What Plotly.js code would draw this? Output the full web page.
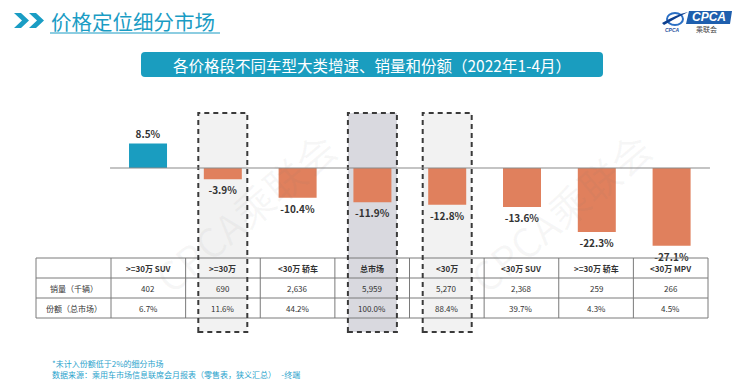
<!DOCTYPE html>
<html>
<head>
<meta charset="utf-8">
<script src="https://cdn.plot.ly/plotly-3.0.1.min.js"></script>
<style>html,body{margin:0;padding:0;background:#fff;}#chart{width:744px;height:392px;}</style>
</head>
<body>
<div id="chart"></div>
<script>
const categories = [">=30万 SUV", ">=30万", "<30万 轿车", "总市场", "<30万", "<30万 SUV", ">=30万 轿车", "<30万 MPV"];
const growth = [8.5, -3.9, -10.4, -11.9, -12.8, -13.6, -22.3, -27.1];
const sales = ["402", "690", "2,636", "5,959", "5,270", "2,368", "259", "266"];
const share = ["6.7%", "11.6%", "44.2%", "100.0%", "88.4%", "39.7%", "4.3%", "4.5%"];
const rowLabels = ["销量（千辆）", "份额（总市场）"];
const highlight = [1, 3, 4];

const W = 744, H = 392;
const px = x => x / W;
const py = y => 1 - y / H;
const FONT = '"Noto Sans CJK SC", "Noto Sans", sans-serif';
const TEAL = '#1a9dbf';
const idx = categories.map((c, i) => i);

const shapes = [];
const annotations = [];
function ann(o) {
  annotations.push(Object.assign({xref: 'paper', yref: 'paper', showarrow: false, xanchor: 'center', yanchor: 'middle'}, o));
}

// dashed highlight boxes (behind)
highlight.forEach(i => {
  const cx = 148 + 74.8 * i;
  shapes.push({type: 'rect', xref: 'paper', yref: 'paper', layer: 'below',
    x0: px(cx - 24.5), x1: px(cx + 24.5), y0: py(332), y1: py(113),
    fillcolor: i === 3 ? '#d9d9df' : '#f2f2f2', line: {width: 0}});
});

// banner
const bx0 = 141, bx1 = 603, by0 = 52, by1 = 77, r = 4;
shapes.push({type: 'path', xref: 'paper', yref: 'paper', layer: 'below',
  path: `M ${px(bx0 + r)} ${py(by0)} L ${px(bx1 - r)} ${py(by0)} Q ${px(bx1)} ${py(by0)} ${px(bx1)} ${py(by0 + r)} L ${px(bx1)} ${py(by1 - r)} Q ${px(bx1)} ${py(by1)} ${px(bx1 - r)} ${py(by1)} L ${px(bx0 + r)} ${py(by1)} Q ${px(bx0)} ${py(by1)} ${px(bx0)} ${py(by1 - r)} L ${px(bx0)} ${py(by0 + r)} Q ${px(bx0)} ${py(by0)} ${px(bx0 + r)} ${py(by0)} Z`,
  fillcolor: TEAL, line: {width: 0}});
ann({x: px(372), y: py(64.5), text: '各价格段不同车型大类增速、销量和份额（2022年1-4月）',
  font: {family: FONT, size: 15.5, color: '#ffffff'}});

// header chevrons
[14, 29].forEach(x => {
  shapes.push({type: 'path', xref: 'paper', yref: 'paper',
    path: `M ${px(x)} ${py(13)} L ${px(x + 7)} ${py(13)} L ${px(x + 15)} ${py(20.5)} L ${px(x + 7)} ${py(28)} L ${px(x)} ${py(28)} L ${px(x + 8)} ${py(20.5)} Z`,
    fillcolor: '#1a9dc4', line: {width: 0}});
});
ann({x: px(49), y: py(21), xanchor: 'left', text: '价格定位细分市场', font: {family: FONT, size: 20.5, color: '#1a9cc4'}});
shapes.push({type: 'line', xref: 'paper', yref: 'paper', x0: px(50), x1: px(220), y0: py(33), y1: py(33),
  line: {color: '#1a9cc4', width: 1.2}});

// logo
shapes.push({type: 'path', xref: 'paper', yref: 'paper',
  path: `M ${px(689)} ${py(11)} L ${px(732)} ${py(11)} L ${px(730)} ${py(24)} L ${px(686)} ${py(24)} Z`,
  fillcolor: '#1f5fae', line: {width: 0}});
ann({x: px(709), y: py(17.5), text: '<i><b>CPCA</b></i>', font: {family: 'Liberation Sans, Arial', size: 12, color: '#ffffff'}});
ann({x: px(706), y: py(29), text: '乘联会', font: {family: FONT, size: 7, color: '#444'}});
shapes.push({type: 'circle', xref: 'paper', yref: 'paper',
  x0: px(667), x1: px(683), y0: py(25), y1: py(13), fillcolor: 'rgba(0,0,0,0)', line: {color: '#2b6fc4', width: 2}});
shapes.push({type: 'path', xref: 'paper', yref: 'paper',
  path: `M ${px(662)} ${py(23)} Q ${px(675)} ${py(15)} ${px(688)} ${py(12)} Q ${px(676)} ${py(18)} ${px(664)} ${py(25)} Z`,
  fillcolor: '#0d3f8f', line: {width: 0}});
ann({x: px(672), y: py(30), text: '<i><b>CPCA</b></i>', font: {family: 'Liberation Sans, Arial', size: 5, color: '#1f4f9e'}});

// watermarks
[[245, 212], [560, 212]].forEach(([x, y]) => {
  ann({x: px(x), y: py(y), textangle: -40, text: 'CPCA乘联会', font: {family: FONT, size: 40, color: 'rgba(120,120,120,0.06)'}});
});

// table
const tL = 36, tR = 708, c0 = 111, cw = (tR - c0) / 8;
const rows = [258, 278, 298, 318];
rows.forEach(y => shapes.push({type: 'line', xref: 'paper', yref: 'paper', x0: px(tL), x1: px(tR), y0: py(y), y1: py(y),
  line: {color: '#7a7a7a', width: 1}}));
[tL, ...Array.from({length: 9}, (_, k) => c0 + cw * k)].forEach(x => shapes.push({type: 'line', xref: 'paper', yref: 'paper',
  x0: px(x), x1: px(x), y0: py(258), y1: py(318), line: {color: '#7a7a7a', width: 1}}));
const tf = {family: FONT, size: 8, color: '#333'};
categories.forEach((c, i) => {
  const cx = c0 + cw * (i + 0.5);
  ann({x: px(cx), y: py(268), text: '<b>' + c.replace(/</g, '&lt;') + '</b>', font: tf});
  ann({x: px(cx), y: py(288), text: sales[i], font: tf});
  ann({x: px(cx), y: py(308), text: share[i], font: tf});
});
rowLabels.forEach((t, k) => ann({x: px((tL + c0) / 2), y: py(288 + 20 * k), text: t, font: tf}));

// dashed borders of highlight boxes (on top)
highlight.forEach(i => {
  const cx = 148 + 74.8 * i;
  shapes.push({type: 'rect', xref: 'paper', yref: 'paper', layer: 'above',
    x0: px(cx - 24.5), x1: px(cx + 24.5), y0: py(332), y1: py(113),
    fillcolor: 'rgba(0,0,0,0)', line: {color: '#3a3a3a', width: 2, dash: '5px,4px'}});
});

// zero line
shapes.push({type: 'line', xref: 'x', yref: 'y', x0: -0.508, x1: 7.513, y0: 0, y1: 0, layer: 'above',
  line: {color: '#8a8a8a', width: 1.2}});

// footnotes
ann({x: px(50), y: py(363), xanchor: 'left', text: '*未计入份额低于2%的细分市场', font: {family: FONT, size: 8, color: '#2aa3cc'}});
ann({x: px(50), y: py(374), xanchor: 'left', text: '数据来源：乘用车市场信息联席会月报表（零售表，狭义汇总）   -终端', font: {family: FONT, size: 8, color: '#2aa3cc'}});

const trace = {
  type: 'bar', x: idx, y: growth, width: 0.508,
  marker: {color: growth.map(v => v >= 0 ? '#1a9dc0' : '#e0805d'), line: {width: 0}},
  texttemplate: '%{y:.1f}%', textposition: 'outside', cliponaxis: false,
  textfont: {family: FONT, size: 10, color: '#333', weight: 'bold'},
  hoverinfo: 'skip'
};

const layout = {
  width: W, height: H, margin: {l: 0, r: 0, t: 0, b: 0},
  paper_bgcolor: '#ffffff', plot_bgcolor: 'rgba(0,0,0,0)',
  showlegend: false,
  xaxis: {range: [-1.979, 7.968], visible: false, fixedrange: true},
  yaxis: {range: [-78.05, 58.54], visible: false, fixedrange: true},
  shapes, annotations
};
Plotly.newPlot('chart', [trace], layout, {displayModeBar: false, staticPlot: true});
</script>
</body>
</html>
